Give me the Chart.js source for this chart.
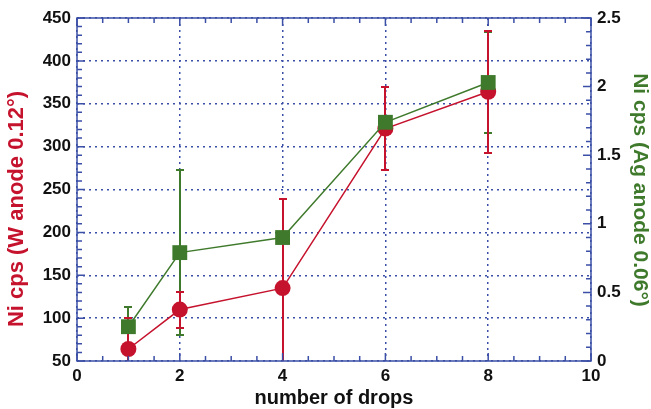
<!DOCTYPE html>
<html>
<head>
<meta charset="utf-8">
<script src="https://cdn.jsdelivr.net/npm/chart.js@4.4.1/dist/chart.umd.min.js"></script>
<style>
  html, body { margin: 0; padding: 0; background: #ffffff; }
  #wrap { width: 651px; height: 409px; }
</style>
</head>
<body>
<div id="wrap"><canvas id="dropsChart" width="651" height="409"></canvas></div>
<script>
// ---------------------------------------------------------------------------
// Data
// ---------------------------------------------------------------------------
const drops = [1, 2, 4, 6, 8];

const niTungsten = [64, 110, 135, 321, 364];      // left axis (W anode 0.12°)
const niTungstenErr = [36, 21, 104, 48, 71];

const niSilver = [0.25, 0.79, 0.90, 1.74, 2.03];  // right axis (Ag anode 0.06°)
const niSilverErr = [0.14, 0.60, 0.03, 0.03, 0.37];

// axis ranges / tick steps
const xRange = [0, 10];
const xMajorStep = 2;
const xMinorStep = 0.5;
const leftRange = [50, 450];
const leftMajorStep = 50;
const leftMinorStep = 10;
const rightRange = [0, 2.5];
const rightMajorStep = 0.5;
const rightMinorStep = 0.1;

const RED = "#c5122d";
const GREEN = "#3f7a2c";
const AXIS_BLUE = "#3b4fa6";
const FONT = "'Liberation Sans', Arial, Helvetica, sans-serif";

// ---------------------------------------------------------------------------
// Helpers
// ---------------------------------------------------------------------------
function toPoints(xs, ys) {
  return xs.map((x, i) => ({ x, y: ys[i] }));
}

function stepValues(min, max, step) {
  const out = [];
  const n = Math.round((max - min) / step);
  for (let i = 0; i <= n; i++) out.push(min + i * step);
  return out;
}

function isMajor(v, min, step) {
  const r = (v - min) / step;
  return Math.abs(r - Math.round(r)) < 1e-6;
}

// plain number labels: 0, 0.5, 1, 1.5 ...
const plainLabel = v => String(+Number(v).toFixed(2));

// error bars, drawn below the markers
const errorBarPlugin = {
  id: "errorBars",
  beforeDatasetsDraw(chart) {
    const { ctx, chartArea, scales } = chart;
    const series = [
      { ys: niSilver, errs: niSilverErr, axis: "y2", color: GREEN },
      { ys: niTungsten, errs: niTungstenErr, axis: "y", color: RED },
    ];
    ctx.save();
    ctx.beginPath();
    ctx.rect(chartArea.left, chartArea.top, chartArea.right - chartArea.left, chartArea.bottom - chartArea.top);
    ctx.clip();
    ctx.setLineDash([]);
    ctx.lineCap = "butt";
    ctx.lineWidth = 2;
    series.forEach(s => {
      const yScale = scales[s.axis];
      ctx.strokeStyle = s.color;
      drops.forEach((d, i) => {
        const px = Math.round(scales.x.getPixelForValue(d));
        const top = Math.round(yScale.getPixelForValue(s.ys[i] + s.errs[i]));
        const bot = Math.round(yScale.getPixelForValue(s.ys[i] - s.errs[i]));
        ctx.beginPath();
        ctx.moveTo(px, top);
        ctx.lineTo(px, bot);
        ctx.stroke();
        ctx.beginPath();
        ctx.moveTo(px - 4, top);
        ctx.lineTo(px + 4, top);
        ctx.moveTo(px - 4, bot);
        ctx.lineTo(px + 4, bot);
        ctx.stroke();
      });
    });
    ctx.restore();
  },
};

// frame, inward major/minor ticks and axis titles
const framePlugin = {
  id: "frame",
  afterDraw(chart) {
    const { ctx, chartArea: a, scales } = chart;
    ctx.save();
    ctx.setLineDash([]);
    ctx.strokeStyle = AXIS_BLUE;
    ctx.lineWidth = 1.5;

    ctx.beginPath();
    stepValues(xRange[0], xRange[1], xMinorStep).forEach(v => {
      const px = scales.x.getPixelForValue(v);
      const len = isMajor(v, xRange[0], xMajorStep) ? 8 : 5;
      ctx.moveTo(px, a.bottom);
      ctx.lineTo(px, a.bottom - len);
      ctx.moveTo(px, a.top);
      ctx.lineTo(px, a.top + len);
    });
    stepValues(leftRange[0], leftRange[1], leftMinorStep).forEach(v => {
      const py = scales.y.getPixelForValue(v);
      const len = isMajor(v, leftRange[0], leftMajorStep) ? 8 : 5;
      ctx.moveTo(a.left, py);
      ctx.lineTo(a.left + len, py);
    });
    stepValues(rightRange[0], rightRange[1], rightMinorStep).forEach(v => {
      const py = scales.y2.getPixelForValue(v);
      const len = isMajor(v, rightRange[0], rightMajorStep) ? 8 : 5;
      ctx.moveTo(a.right, py);
      ctx.lineTo(a.right - len, py);
    });
    ctx.stroke();

    ctx.strokeRect(a.left, a.top, a.right - a.left, a.bottom - a.top);

    // axis titles
    ctx.font = "bold 22px " + FONT;
    ctx.textAlign = "center";
    ctx.textBaseline = "middle";

    ctx.fillStyle = RED;
    ctx.save();
    ctx.translate(17, 209);
    ctx.rotate(-Math.PI / 2);
    ctx.fillText("Ni cps (W anode 0.12°)", 0, 0);
    ctx.restore();

    ctx.font = "bold 21px " + FONT;
    ctx.fillStyle = GREEN;
    ctx.save();
    ctx.translate(640, 190);
    ctx.rotate(Math.PI / 2);
    ctx.fillText("Ni cps (Ag anode 0.06°)", 0, 0);
    ctx.restore();

    ctx.fillStyle = "#111111";
    ctx.font = "bold 20px " + FONT;
    ctx.fillText("number of drops", (a.left + a.right) / 2, 398);
    ctx.restore();
  },
};

// ---------------------------------------------------------------------------
// Chart
// ---------------------------------------------------------------------------
const dottedGrid = {
  color: AXIS_BLUE,
  lineWidth: 1.5,
  drawTicks: false,
  borderDash: [2, 4],
};

const tickFont = { family: FONT, size: 17, weight: "bold" };

const config = {
  type: "scatter",
  data: {
    datasets: [
      {
        label: "Ni cps (W anode 0.12°)",
        data: toPoints(drops, niTungsten),
        yAxisID: "y",
        showLine: true,
        borderColor: RED,
        borderWidth: 1.5,
        backgroundColor: RED,
        pointStyle: "circle",
        pointRadius: 8,
        pointHoverRadius: 8,
        pointBorderWidth: 0,
        order: 2,
      },
      {
        label: "Ni cps (Ag anode 0.06°)",
        data: toPoints(drops, niSilver),
        yAxisID: "y2",
        showLine: true,
        borderColor: GREEN,
        borderWidth: 1.5,
        backgroundColor: GREEN,
        pointStyle: "rect",
        pointRadius: 10.5,
        pointHoverRadius: 10.5,
        pointBorderWidth: 0,
        order: 1,
      },
    ],
  },
  options: {
    responsive: false,
    animation: false,
    layout: { padding: { top: 18, left: 0, right: 0, bottom: 0 } },
    plugins: {
      legend: { display: false },
      tooltip: { enabled: false },
    },
    scales: {
      x: {
        type: "linear",
        min: xRange[0],
        max: xRange[1],
        ticks: { stepSize: xMajorStep, padding: 5, color: "#111111", font: tickFont, callback: plainLabel },
        grid: dottedGrid,
        border: { display: false, dash: [2, 4] },
        afterFit: scale => { scale.height = 48; },
      },
      y: {
        type: "linear",
        position: "left",
        min: leftRange[0],
        max: leftRange[1],
        ticks: { stepSize: leftMajorStep, padding: 6, color: "#111111", font: tickFont, callback: plainLabel },
        grid: dottedGrid,
        border: { display: false, dash: [2, 4] },
        afterFit: scale => { scale.width = 77; },
      },
      y2: {
        type: "linear",
        position: "right",
        min: rightRange[0],
        max: rightRange[1],
        ticks: { stepSize: rightMajorStep, padding: 6, color: "#111111", font: tickFont, callback: plainLabel },
        grid: { drawOnChartArea: false, drawTicks: false },
        border: { display: false },
        afterFit: scale => { scale.width = 60; },
      },
    },
  },
  plugins: [errorBarPlugin, framePlugin],
};

new Chart(document.getElementById("dropsChart").getContext("2d"), config);
</script>
</body>
</html>
